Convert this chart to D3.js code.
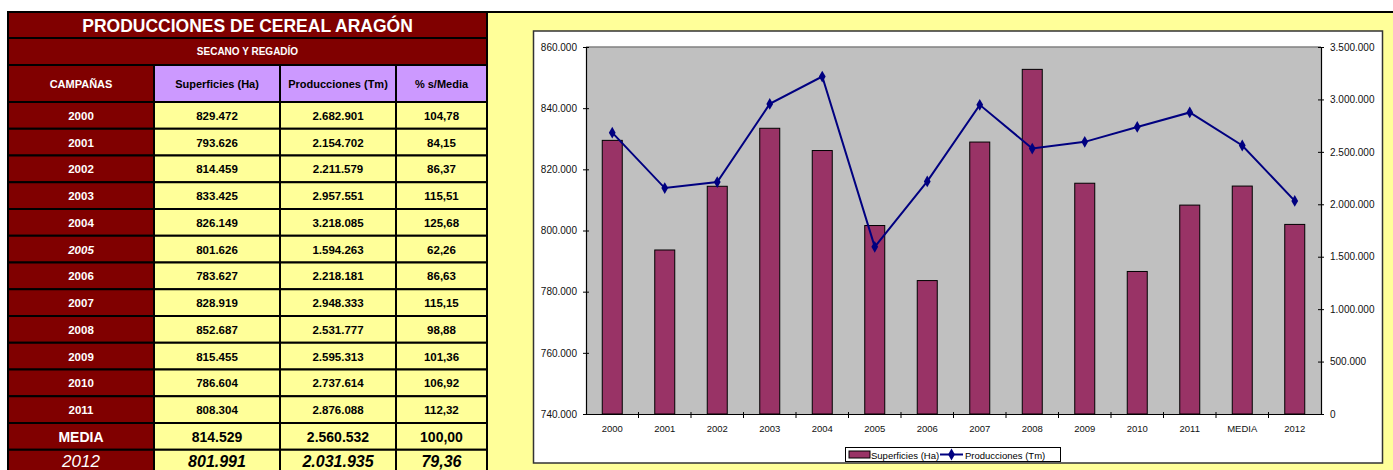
<!DOCTYPE html>
<html>
<head>
<meta charset="utf-8">
<script src="https://cdn.jsdelivr.net/npm/d3@7"></script>
<style>
  body { margin: 0; background: #fff; }
  svg { display: block; font-family: "Liberation Sans", Arial, sans-serif; }
</style>
</head>
<body>
<svg id="chart" width="1393" height="470"></svg>
<script>
// datos de la tabla y del grafico
const campanas = ["2000", "2001", "2002", "2003", "2004", "2005", "2006", "2007", "2008", "2009", "2010", "2011", "MEDIA", "2012"];
const superficies = [829472, 793626, 814459, 833425, 826149, 801626, 783627, 828919, 852687, 815455, 786604, 808304, 814529, 801991];
const producciones = [2682901, 2154702, 2211579, 2957551, 3218085, 1594263, 2218181, 2948333, 2531777, 2595313, 2737614, 2876088, 2560532, 2031935];
const pctMedia = [104.78, 84.15, 86.37, 115.51, 125.68, 62.26, 86.63, 115.15, 98.88, 101.36, 106.92, 112.32, 100.00, 79.36];
const cabeceras = ["CAMPAÑAS", "Superficies (Ha)", "Producciones (Tm)", "% s/Media"];
const ticksSup = [740000, 760000, 780000, 800000, 820000, 840000, 860000];
const ticksProd = [0, 500000, 1000000, 1500000, 2000000, 2500000, 3000000, 3500000];

const es = d3.formatLocale({ decimal: ",", thousands: ".", grouping: [3], currency: ["", " €"] });
const fmtInt = es.format(",d");
const fmtPct = es.format(",.2f");

const svg = d3.select("#chart");
const font = "'Liberation Sans', Arial, sans-serif";

// ---------- panel amarillo del grafico ----------
svg.append("rect").attr("x", 487).attr("y", 12).attr("width", 920).attr("height", 470)
  .attr("fill", "#FFFF99").attr("stroke", "#000").attr("stroke-width", 2);

// ---------- tabla ----------
const colX = [8, 154, 280, 396, 487];
const rowTop = 102, rowH = 26.75;
const tabla = svg.append("g");

function cell(x0, x1, y0, y1, fill) {
  tabla.append("rect").attr("x", x0).attr("y", y0).attr("width", x1 - x0).attr("height", y1 - y0)
    .attr("fill", fill).attr("stroke", "#000").attr("stroke-width", 2);
}
function txt(x, y, s, size, color, weight, style) {
  tabla.append("text").attr("x", x).attr("y", y).attr("text-anchor", "middle")
    .attr("dominant-baseline", "central")
    .attr("font-size", size).attr("font-weight", weight || "bold")
    .attr("font-style", style || "normal").attr("fill", color).text(s);
}

cell(8, 487, 12, 38, "#800000");
txt(247.5, 25.5, "PRODUCCIONES DE CEREAL ARAGÓN", 17.5, "#fff");
cell(8, 487, 38, 65, "#800000");
txt(247.5, 51.5, "SECANO Y REGADÍO", 10, "#fff");

cabeceras.forEach((h, i) => {
  cell(colX[i], colX[i + 1], 65, rowTop, i === 0 ? "#800000" : "#CC99FF");
  txt((colX[i] + colX[i + 1]) / 2, 84, h, 11, i === 0 ? "#fff" : "#000");
});

campanas.forEach((c, r) => {
  const y0 = rowTop + r * rowH, y1 = y0 + rowH;
  const isMedia = c === "MEDIA", isLast = r === campanas.length - 1;
  // la ultima fila queda cortada por el borde: texto algo mas arriba
  const yc = isLast ? 461 : (y0 + y1) / 2 + 0.5;
  const size = isLast ? 16 : isMedia ? 14 : 11.5;
  const italic = isLast || c === "2005" ? "italic" : "normal";
  cell(colX[0], colX[1], y0, y1, "#800000");
  cell(colX[1], colX[2], y0, y1, "#FFFF99");
  cell(colX[2], colX[3], y0, y1, "#FFFF99");
  cell(colX[3], colX[4], y0, y1, "#FFFF99");
  txt((colX[0] + colX[1]) / 2, yc, c, isLast ? 17 : size, "#fff", isLast ? "normal" : "bold", italic);
  const vals = [fmtInt(superficies[r]), fmtInt(producciones[r]), fmtPct(pctMedia[r])];
  vals.forEach((v, k) => txt((colX[k + 1] + colX[k + 2]) / 2, yc, v, size, "#000", "bold", isLast ? "italic" : "normal"));
});

// ---------- grafico ----------
svg.append("rect").attr("x", 533.5).attr("y", 31).attr("width", 849).attr("height", 432)
  .attr("fill", "#fff").attr("stroke", "#333").attr("stroke-width", 1.5);

const plot = { left: 586, right: 1321, top: 47, bottom: 414 };
const x = d3.scaleBand().domain(campanas).range([plot.left, plot.right]).padding(0);
const yL = d3.scaleLinear().domain([740000, 860000]).range([plot.bottom, plot.top]);
const yR = d3.scaleLinear().domain([0, 3500000]).range([plot.bottom, plot.top]);

svg.append("rect").attr("x", plot.left).attr("y", plot.top)
  .attr("width", plot.right - plot.left).attr("height", plot.bottom - plot.top)
  .attr("fill", "#C0C0C0");
svg.append("line").attr("x1", plot.left).attr("x2", plot.right)
  .attr("y1", plot.top).attr("y2", plot.top).attr("stroke", "#808080").attr("stroke-width", 1.5);

const barW = 20;
svg.append("g").selectAll("rect").data(campanas).join("rect")
  .attr("x", (d) => x(d) + x.bandwidth() / 2 - barW / 2)
  .attr("y", (d, i) => yL(superficies[i]))
  .attr("width", barW)
  .attr("height", (d, i) => plot.bottom - yL(superficies[i]))
  .attr("fill", "#993366").attr("stroke", "#000").attr("stroke-width", 1);

// ejes
const axisL = svg.append("g").attr("transform", `translate(${plot.left},0)`)
  .call(d3.axisLeft(yL).tickValues(ticksSup).tickFormat(fmtInt).tickSizeInner(3).tickSizeOuter(0).tickPadding(6));
const axisR = svg.append("g").attr("transform", `translate(${plot.right},0)`)
  .call(d3.axisRight(yR).tickValues(ticksProd).tickFormat(fmtInt).tickSizeInner(3).tickSizeOuter(0).tickPadding(6));
[axisL, axisR].forEach((a) => {
  a.select(".domain").attr("stroke", "#000").attr("stroke-width", 1.2);
  a.selectAll(".tick line").attr("stroke", "#000").attr("x1", -3).attr("x2", 3);
  a.selectAll("text").attr("font-size", 10).attr("font-family", font).attr("fill", "#111");
});

const axisB = svg.append("g").attr("transform", `translate(0,${plot.bottom})`)
  .call(d3.axisBottom(x).tickSize(0).tickPadding(11));
axisB.select(".domain").attr("stroke", "#000").attr("stroke-width", 1.2);
axisB.selectAll("text").attr("font-size", 9.5).attr("font-family", font).attr("fill", "#111");
// marcas entre categorias
svg.append("g").selectAll("line").data(campanas.slice(1)).join("line")
  .attr("x1", (d) => x(d)).attr("x2", (d) => x(d))
  .attr("y1", plot.bottom - 2).attr("y2", plot.bottom + 4)
  .attr("stroke", "#000").attr("stroke-width", 1);

// linea de producciones
const cx = (d) => x(d) + x.bandwidth() / 2;
const linea = d3.line().x((d) => cx(d)).y((d, i) => yR(producciones[i]));
svg.append("path").datum(campanas).attr("d", linea)
  .attr("fill", "none").attr("stroke", "#000080").attr("stroke-width", 2);
const diamante = d3.symbol().type(d3.symbolDiamond).size(40);
svg.append("g").selectAll("path").data(campanas).join("path")
  .attr("d", diamante)
  .attr("transform", (d, i) => `translate(${cx(d)},${yR(producciones[i])})`)
  .attr("fill", "#000080");

// leyenda
const leg = svg.append("g");
leg.append("rect").attr("x", 845.5).attr("y", 447.5).attr("width", 215).attr("height", 14)
  .attr("fill", "#fff").attr("stroke", "#000").attr("stroke-width", 1);
leg.append("rect").attr("x", 849).attr("y", 451).attr("width", 21).attr("height", 7)
  .attr("fill", "#993366").attr("stroke", "#000").attr("stroke-width", 1);
leg.append("text").attr("x", 871).attr("y", 455).attr("dominant-baseline", "central")
  .attr("font-size", 9.5).attr("fill", "#000").text("Superficies (Ha)");
leg.append("line").attr("x1", 940).attr("x2", 963).attr("y1", 454.5).attr("y2", 454.5)
  .attr("stroke", "#000080").attr("stroke-width", 2);
leg.append("path").attr("d", diamante).attr("transform", "translate(951.5,454.5)").attr("fill", "#000080");
leg.append("text").attr("x", 965).attr("y", 455).attr("dominant-baseline", "central")
  .attr("font-size", 9.5).attr("fill", "#000").text("Producciones (Tm)");
</script>
</body>
</html>
